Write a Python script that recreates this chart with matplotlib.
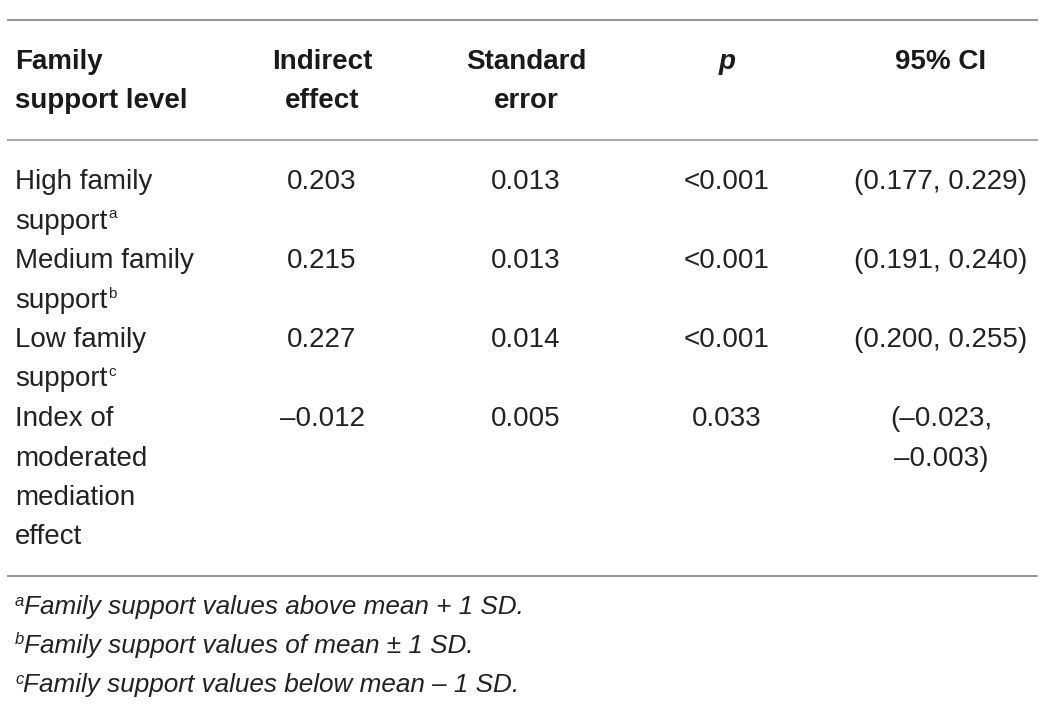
import matplotlib
matplotlib.use("Agg")
import matplotlib.pyplot as plt
from matplotlib.lines import Line2D

plt.rcParams['font.family'] = ['Liberation Sans', 'DejaVu Sans']

W, H = 1052, 712
headers1 = ["Family", "Indirect", "Standard", "p", "95% CI"]
headers2 = ["support level", "effect", "error", "", ""]
level_lines = [["High family", "support"], ["Medium family", "support"],
               ["Low family", "support"], ["Index of", "moderated", "mediation", "effect"]]
level_sup = ["a", "b", "c", ""]
indirect = ["0.203", "0.215", "0.227", "–0.012"]
std_err = ["0.013", "0.013", "0.014", "0.005"]
p_vals = ["<0.001", "<0.001", "<0.001", "0.033"]
ci = [["(0.177, 0.229)"], ["(0.191, 0.240)"], ["(0.200, 0.255)"], ["(–0.023,", "–0.003)"]]
foot_sup = ["a", "b", "c"]
foot_text = ["Family support values above mean + 1 SD.",
             "Family support values of mean ± 1 SD.",
             "Family support values below mean – 1 SD."]

fig = plt.figure(figsize=(W / 100, H / 100), dpi=100)
fig.patch.set_facecolor("white")

def fx(x):
    return x / W

def fy(y):
    return 1 - y / H

FS = 20
FS_FOOT = 18.8
col_x = [15, 322, 526, 727, 941]
line_h = 39.5
TXT = "#222222"

def rule(y, lw=1.3, color="#8a8a8a"):
    fig.add_artist(Line2D([fx(8), fx(1037)], [fy(y), fy(y)], lw=lw, color=color))

rule(20)
rule(140, color="#a9a9a9", lw=1.5)
rule(576)

# headers
for i, (h1, h2) in enumerate(zip(headers1, headers2)):
    ha = "left" if i == 0 else "center"
    style = "italic" if h1 == "p" else "normal"
    fig.text(fx(col_x[i]), fy(62), h1, ha=ha, va="center", fontsize=FS,
             fontweight="bold", style=style, color="#1a1a1a")
    if h2:
        fig.text(fx(col_x[i]), fy(101), h2, ha=ha, va="center", fontsize=FS,
                 fontweight="bold", color="#1a1a1a")

fig.canvas.draw()
renderer = fig.canvas.get_renderer()

row_y = [182, 261, 340, 419]
for r in range(4):
    y0 = row_y[r]
    for k, line in enumerate(level_lines[r]):
        t = fig.text(fx(col_x[0]), fy(y0 + k * line_h), line, ha="left", va="center",
                     fontsize=FS, color=TXT)
        if k == len(level_lines[r]) - 1 and level_sup[r]:
            bb = t.get_window_extent(renderer)
            fig.text(bb.x1 / W + 0.001, fy(y0 + k * line_h - 7), level_sup[r], ha="left",
                     va="center", fontsize=11, color=TXT)
    fig.text(fx(col_x[1]), fy(y0), indirect[r], ha="center", va="center", fontsize=FS, color=TXT)
    fig.text(fx(col_x[2]), fy(y0), std_err[r], ha="center", va="center", fontsize=FS, color=TXT)
    fig.text(fx(col_x[3]), fy(y0), p_vals[r], ha="center", va="center", fontsize=FS, color=TXT)
    for k, line in enumerate(ci[r]):
        fig.text(fx(col_x[4]), fy(y0 + k * line_h), line, ha="center", va="center",
                 fontsize=FS, color=TXT)

foot_y = [607, 646, 685]
for s, txt, y in zip(foot_sup, foot_text, foot_y):
    st = fig.text(fx(15), fy(y - 6), s, ha="left", va="center", fontsize=12,
                  style="italic", color=TXT)
    bb = st.get_window_extent(renderer)
    fig.text(bb.x1 / W, fy(y), txt, ha="left", va="center", fontsize=FS_FOOT,
             style="italic", color=TXT)

fig.savefig("out.png", dpi=100, facecolor="white")
